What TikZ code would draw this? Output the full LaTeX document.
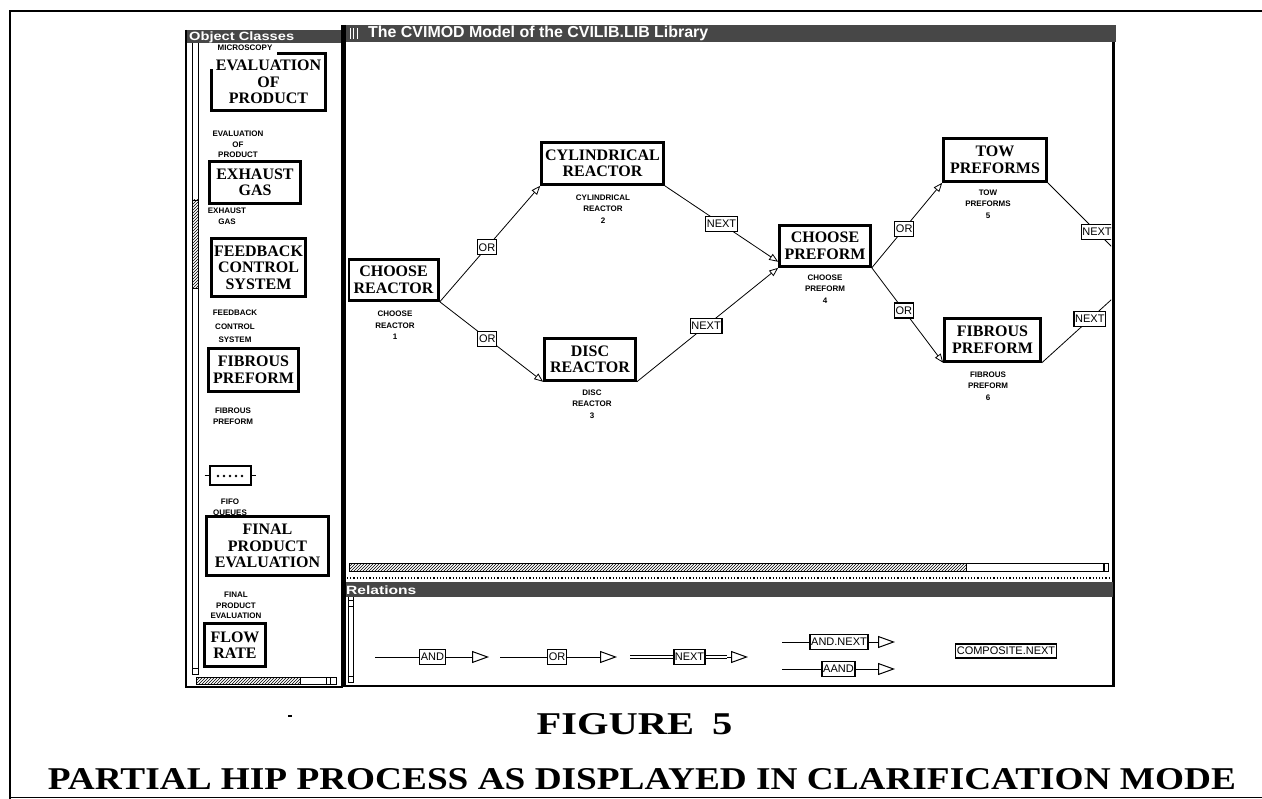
\documentclass[tikz,border=0pt]{standalone}
\usepackage{fontspec}
\setmainfont{Liberation Serif}
\setsansfont{Liberation Sans}
\usetikzlibrary{arrows.meta,patterns}

\tikzset{
  cls/.style={draw, line width=2.6pt, fill=white, align=center, inner sep=0pt,
    font=\fontsize{16}{16.5}\selectfont\bfseries},
  tag/.style={font=\fontsize{8}{11.5}\selectfont\sffamily\bfseries, align=center, inner sep=0pt, anchor=north},
  sidetag/.style={tag, font=\fontsize{8}{10.5}\selectfont\sffamily\bfseries},
  rel/.style={draw, line width=1.1pt, fill=white, inner xsep=1.2pt, inner ysep=0pt,
    minimum height=15pt, font=\fontsize{11}{12}\selectfont\sffamily},
  edge/.style={line width=0.8pt, -{Triangle[open, length=9pt, width=7pt, line width=0.8pt]}},
  link/.style={line width=0.8pt},
  reltip/.style={line width=0.8pt, -{Triangle[open, length=17pt, width=12pt, line width=1pt]}},
  dbl/.style={line width=1.6pt, double, double distance=1.6pt},
  barfill/.style={fill=black!72},
  bartext/.style={text=white, inner sep=0pt, anchor=west,
    font=\fontsize{12}{13}\selectfont\sffamily\bfseries},
  hatch/.style={draw, line width=0.6pt, pattern=north east lines},
  frame/.style={line width=2.4pt},
}

\begin{document}
\begin{tikzpicture}[x=1pt,y=-1pt]
\useasboundingbox (0,0) rectangle (1262,799);

% page border
\draw[line width=2pt] (1262,11) -- (10,11) -- (10,799);
\draw[line width=1.5pt] (10,797.5) -- (1262,797.5);

% ---------- Object Classes window ----------
\fill[barfill] (186,30) rectangle (343,43);
\node[bartext] (octitle) at (189,37) {\scalebox{1.22}[1]{Object Classes}};
\draw[frame] (186,30) -- (186,687) -- (343,687);
\draw[line width=5pt] (343,25) -- (343,687);
% vertical scroll bar
\draw[line width=0.8pt] (192,43) -- (192,672) (198,43) -- (198,672);
\draw[hatch] (192,200) rectangle (198,288);
\draw[line width=0.8pt] (192,668) rectangle (198,674);
% horizontal scroll bar
\draw[line width=0.8pt] (196,677) rectangle (336,684);
\draw[hatch] (196,677) rectangle (300,684);
\draw[line width=0.8pt] (326,677) -- (326,684) (330,677) -- (330,684);

% class list
\node[sidetag] (tflow) at (236,592) {FINAL\\PRODUCT\\EVALUATION};
\node[sidetag] (tfifo) at (230,499) {FIFO\\QUEUES};
\node[sidetag] (tfib) at (233,408) {FIBROUS\\PREFORM};
\node[sidetag, font=\fontsize{8}{13.5}\selectfont\sffamily\bfseries] (tfcs) at (235,310) {FEEDBACK\\CONTROL\\SYSTEM};
\node[sidetag] (texh) at (227,208) {EXHAUST\\GAS};
\node[sidetag] (tevp) at (238,131) {EVALUATION\\OF\\PRODUCT};

\node[cls, minimum width=114pt, minimum height=57pt] (evp) at (268.5,82) {EVALUATION\\OF\\PRODUCT};
\fill[white] (205,45) rectangle (277,55.5);
\fill[white] (205,45) rectangle (213,69);
\node[sidetag, anchor=center] (tmic) at (245,47.5) {MICROSCOPY};
\node[cls, minimum width=91pt, minimum height=42pt] (exh) at (255,182.5) {EXHAUST\\GAS};
\node[cls, minimum width=94pt, minimum height=58pt] (fcs) at (258.5,267.5) {FEEDBACK\\CONTROL\\SYSTEM};
\node[cls, minimum width=90pt, minimum height=43pt] (fpr) at (253.5,370) {FIBROUS\\PREFORM};
\node[draw, line width=2pt, fill=white, minimum width=41pt, minimum height=19pt, inner sep=0pt] (fifo) at (230,476) {};
\draw[line width=1pt] ([xshift=-4pt]fifo.west) -- (fifo.west) (fifo.east) -- ([xshift=4pt]fifo.east);
\foreach \dx in {-12,-6,0,6,12} \fill ([xshift=\dx pt]fifo.center) circle (1.4pt);
\node[cls, minimum width=122pt, minimum height=59pt] (fpe) at (267.5,546) {FINAL\\PRODUCT\\EVALUATION};
\node[cls, minimum width=61pt, minimum height=43pt] (flr) at (235,645) {FLOW\\RATE};

% ---------- model window ----------
\fill[barfill] (346,25) rectangle (1116,42);
\foreach \x in {350,353.5,357} \draw[white, line width=1pt] (\x,28) -- (\x,39);
\node[bartext] (mtitle) at (368,33.5) {\resizebox{340pt}{11.5pt}{The CVIMOD Model of the CVILIB.LIB Library}};
\draw[line width=3pt] (1113.5,42) -- (1113.5,686);
% horizontal scroll bar of the canvas
\draw[hatch] (349,563) rectangle (966,571);
\draw[line width=0.8pt] (966,563) rectangle (1108,571);
\draw[line width=1.2pt] (1104,563) -- (1104,571);
\draw[line width=1.2pt, dotted] (347,578) -- (1112,578);

% process graph
\begin{scope}
\clip (348,42) rectangle (1111,562);
\node[cls, minimum width=90pt, minimum height=41pt] (cr) at (393.5,280) {CHOOSE\\REACTOR};
\node[cls, minimum width=122pt, minimum height=42pt] (cyl) at (602.5,163.5) {CYLINDRICAL\\REACTOR};
\node[cls, minimum width=91pt, minimum height=42pt] (disc) at (590,359.5) {DISC\\REACTOR};
\node[cls, minimum width=91pt, minimum height=41pt] (cp) at (825,246) {CHOOSE\\PREFORM};
\node[cls, minimum width=103pt, minimum height=43pt] (tow) at (995,160) {TOW\\PREFORMS};
\node[cls, minimum width=96pt, minimum height=43pt] (fib) at (992.5,340) {FIBROUS\\PREFORM};

\node[tag] (tcr) at (395,311) {CHOOSE\\REACTOR\\1};
\node[tag] (tcyl) at (603,194.5) {CYLINDRICAL\\REACTOR\\2};
\node[tag] (tdisc) at (592,389.5) {DISC\\REACTOR\\3};
\node[tag] (tcp) at (825,274.5) {CHOOSE\\PREFORM\\4};
\node[tag] (ttow) at (988,189.5) {TOW\\PREFORMS\\5};
\node[tag] (tfib2) at (988,371.5) {FIBROUS\\PREFORM\\6};

\coordinate (outA) at (1165,300);
\coordinate (outB) at (1165,251);

\draw[edge] (cr.south east) -- node[rel, pos=0.47] (or1) {OR} (cyl.south west);
\draw[edge] (cr.south east) -- node[rel, pos=0.46] (or2) {OR} (disc.south west);
\draw[edge] (cyl.south east) -- node[rel, pos=0.5] (nx1) {NEXT} ([yshift=6pt]cp.south west);
\draw[edge] (disc.south east) -- node[rel, pos=0.49] (nx2) {NEXT} (cp.south west);
\draw[edge] (cp.south east) -- node[rel, pos=0.46] (or3) {OR} (tow.south west);
\draw[edge] (cp.south east) -- node[rel, pos=0.45] (or4) {OR} (fib.south west);
\draw[link] (tow.south east) -- node[rel, pos=0.42] (nx3) {NEXT} (outA);
\draw[link] (fib.south east) -- node[rel, pos=0.39] (nx4) {NEXT} (outB);
\end{scope}

% ---------- Relations window ----------
\fill[barfill] (346,582) rectangle (1113,597);
\node[bartext] (rtitle) at (346,590) {\scalebox{1.3}[1]{Relations}};
\draw[line width=0.8pt] (348,597) -- (348,683) (353,597) -- (353,683);
\draw[line width=0.8pt] (348,600) rectangle (353,606);
\draw[line width=0.8pt] (348,676) rectangle (353,682);
\draw[frame] (343,686) -- (1114.5,686);

\coordinate (a0) at (375,657);
\coordinate (a1) at (489,657);
\node[rel] (rand) at (432.5,657) {AND};
\draw[link] (a0) -- (rand);
\draw[reltip] (rand) -- (a1);

\coordinate (o0) at (500,657);
\coordinate (o1) at (617,657);
\node[rel] (ror) at (557,657) {OR};
\draw[link] (o0) -- (ror);
\draw[reltip] (ror) -- (o1);

\coordinate (n0) at (630,657);
\coordinate (n2) at (727,657);
\coordinate (n1) at (748,657);
\node[rel, line width=1.8pt] (rnext) at (689.5,657) {NEXT};
\draw[dbl] (n0) -- (rnext);
\draw[dbl] (rnext) -- (n2);
\draw[reltip] (n2) -- (n1);

\coordinate (an0) at (782,642);
\coordinate (an1) at (895,642);
\node[rel] (randnext) at (839,642) {AND.NEXT};
\draw[link] (an0) -- (randnext);
\draw[reltip] (randnext) -- (an1);

\coordinate (aa0) at (782,669);
\coordinate (aa1) at (895,669);
\node[rel] (raand) at (838.5,669) {AAND};
\draw[link] (aa0) -- (raand);
\draw[reltip] (raand) -- (aa1);

\node[rel, minimum height=14pt] (rcomp) at (1006,651) {COMPOSITE.NEXT};

% ---------- caption ----------
\draw[line width=1.2pt] (288,716) -- (292,716);
\node[inner sep=0pt] (fig) at (634.5,724) {\resizebox{196pt}{21pt}{\bfseries FIGURE\hspace{0.45em}5}};
\node[inner sep=0pt] (cap) at (642,779) {\resizebox{1188pt}{21pt}{\bfseries PARTIAL HIP PROCESS AS DISPLAYED IN CLARIFICATION MODE}};
\end{tikzpicture}
\end{document}
